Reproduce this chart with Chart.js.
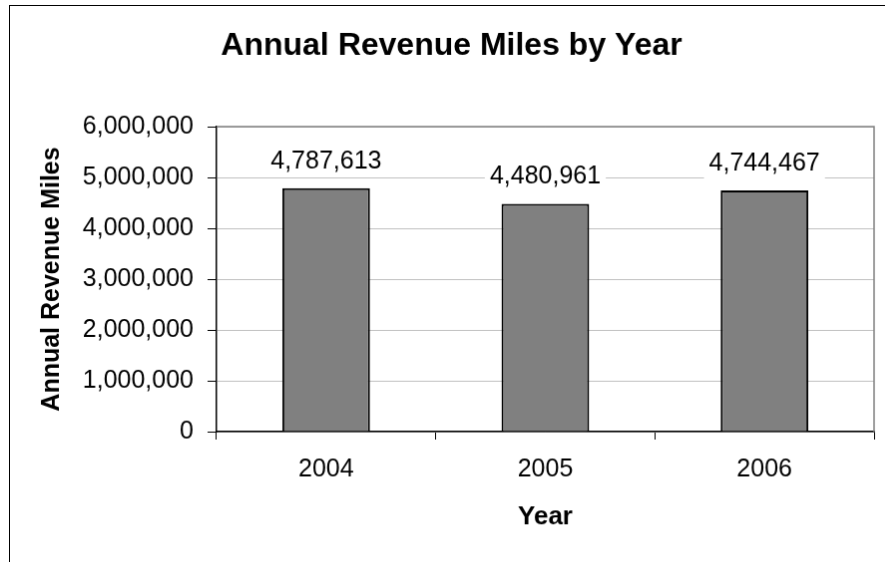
<!DOCTYPE html>
<html>
<head>
<meta charset="utf-8">
<title>Annual Revenue Miles by Year</title>
<script src="https://cdn.jsdelivr.net/npm/chart.js@4"></script>
<style>
  html, body { margin: 0; padding: 0; background: #fff; overflow: hidden; }
  #myChart { position: absolute; left: 9px; top: 5px; border: 1px solid #000; }
</style>
</head>
<body>
<canvas id="myChart" width="885" height="600"></canvas>
<script>
var years = ["2004", "2005", "2006"];
var revenueMiles = [4787613, 4480961, 4744467];
var yTicks = [0, 1000000, 2000000, 3000000, 4000000, 5000000, 6000000];

var FONT = "'Liberation Sans', Arial, sans-serif";

function fmt(v) {
    return Number(v).toLocaleString('en-US');
}

// value labels above each bar, on a white box that hides the gridline
var barLabels = {
    id: 'barLabels',
    afterDatasetsDraw: function(chart) {
        var ctx = chart.ctx;
        var meta = chart.getDatasetMeta(0);
        ctx.save();
        ctx.font = '25px ' + FONT;
        ctx.textAlign = 'center';
        ctx.textBaseline = 'middle';
        meta.data.forEach(function(bar, i) {
            var txt = fmt(chart.data.datasets[0].data[i]);
            var w = ctx.measureText(txt).width + 10;
            var cy = bar.y - 29;
            ctx.fillStyle = '#fff';
            ctx.fillRect(bar.x - w / 2, cy - 17, w, 34);
            ctx.fillStyle = '#000';
            ctx.fillText(txt, bar.x, cy + 2);
        });
        ctx.restore();
    }
};

// gray top and right edges of the plot area
var plotFrame = {
    id: 'plotFrame',
    afterDraw: function(chart) {
        var a = chart.chartArea;
        var ctx = chart.ctx;
        ctx.save();
        ctx.strokeStyle = '#808080';
        ctx.lineWidth = 1.5;
        ctx.beginPath();
        ctx.moveTo(a.left + 1, a.top);
        ctx.lineTo(a.right, a.top);
        ctx.lineTo(a.right, a.bottom);
        ctx.stroke();
        ctx.restore();
    }
};

var ctx = document.getElementById("myChart").getContext('2d');

var myChart = new Chart(ctx, {
    type: 'bar',
    data: {
        labels: years,
        datasets: [{
            label: 'Annual Revenue Miles',
            data: revenueMiles,
            backgroundColor: '#808080',
            borderColor: '#000',
            borderWidth: 2,
            borderSkipped: 'start',
            barPercentage: 0.4,
            categoryPercentage: 1.0
        }]
    },
    options: {
        responsive: false,
        animation: false,
        layout: { padding: { left: 19, right: 19, top: 0, bottom: 0 } },
        plugins: {
            legend: { display: false },
            tooltip: { enabled: false },
            title: {
                display: true,
                text: 'Annual Revenue Miles by Year',
                color: '#000',
                font: { family: FONT, size: 32, weight: 'bold' },
                padding: { top: 21, bottom: 61.6 }
            }
        },
        scales: {
            x: {
                grid: {
                    display: true,
                    drawOnChartArea: false,
                    drawTicks: true,
                    tickLength: 8,
                    tickColor: '#000',
                    offset: true
                },
                border: { color: '#000', width: 1.5 },
                ticks: {
                    color: '#000',
                    font: { family: FONT, size: 25 },
                    padding: 15
                },
                title: {
                    display: true,
                    text: 'Year',
                    color: '#000',
                    font: { family: FONT, size: 26, weight: 'bold' },
                    padding: { top: 0, bottom: 72 }
                },
                afterFit: function(scale) { scale.height = 173; }
            },
            y: {
                min: 0,
                max: 6000000,
                afterBuildTicks: function(scale) {
                    scale.ticks = yTicks.map(function(v) { return { value: v }; });
                },
                grid: {
                    color: '#c0c0c0',
                    lineWidth: 1,
                    tickColor: '#000',
                    tickLength: 9
                },
                border: { color: '#000', width: 1.5 },
                ticks: {
                    color: '#000',
                    font: { family: FONT, size: 25 },
                    padding: 14,
                    callback: function(v) { return fmt(v); }
                },
                title: {
                    display: true,
                    text: 'Annual Revenue Miles',
                    color: '#000',
                    font: { family: FONT, size: 25, weight: 'bold' },
                    padding: { top: 8, bottom: 0 }
                },
                afterFit: function(scale) { scale.width = 188; }
            }
        }
    },
    plugins: [barLabels, plotFrame]
});
</script>
</body>
</html>
